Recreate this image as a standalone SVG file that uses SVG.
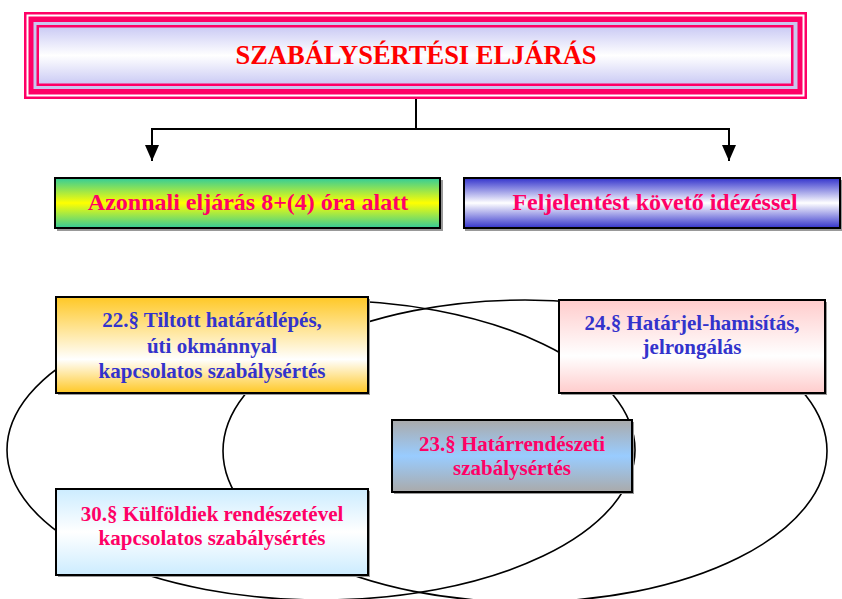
<svg xmlns="http://www.w3.org/2000/svg" width="842" height="599" viewBox="0 0 842 599">
<defs>
<linearGradient id="gTitle" x1="0" y1="0" x2="0" y2="1"><stop offset="0" stop-color="#CCCCF5"/><stop offset="0.5" stop-color="#FFFFFF"/><stop offset="1" stop-color="#CCCCF5"/></linearGradient>
<linearGradient id="gGreen" x1="0" y1="0" x2="0" y2="1"><stop offset="0" stop-color="#33CC99"/><stop offset="0.5" stop-color="#FFFF00"/><stop offset="1" stop-color="#33CC99"/></linearGradient>
<linearGradient id="gBlue" x1="0" y1="0" x2="0" y2="1"><stop offset="0" stop-color="#3333CC"/><stop offset="0.5" stop-color="#FFFFFF"/><stop offset="1" stop-color="#3333CC"/></linearGradient>
<linearGradient id="gGold" x1="0" y1="0" x2="0" y2="1"><stop offset="0" stop-color="#FFC825"/><stop offset="0.65" stop-color="#FFFFFF"/><stop offset="1" stop-color="#FFC825"/></linearGradient>
<linearGradient id="gPink" x1="0" y1="0" x2="0" y2="1"><stop offset="0" stop-color="#FFCCCC"/><stop offset="0.6" stop-color="#FFFFFF"/><stop offset="1" stop-color="#FFCCCC"/></linearGradient>
<linearGradient id="gGray" x1="0" y1="0" x2="0" y2="1"><stop offset="0" stop-color="#AAAAAA"/><stop offset="0.5" stop-color="#99CCFF"/><stop offset="1" stop-color="#AAAAAA"/></linearGradient>
<linearGradient id="gSky" x1="0" y1="0" x2="0" y2="1"><stop offset="0" stop-color="#CCECFF"/><stop offset="0.5" stop-color="#FFFFFF"/><stop offset="1" stop-color="#CCECFF"/></linearGradient>
<marker id="arrDown" viewBox="0 0 14 16" refX="7" refY="16" markerWidth="14" markerHeight="16" markerUnits="userSpaceOnUse" orient="0">
<path d="M0,0 L14,0 L7,16 Z" fill="#000"/>
</marker>
</defs>
<style>
.t{font-family:"Liberation Serif","Times New Roman",serif;font-weight:bold;text-anchor:middle}
.pink{fill:#FF0066}
.blue{fill:#3333CC}
.box{stroke:#000;stroke-width:2}
.sh{fill:#999}
.ell{fill:none;stroke:#000;stroke-width:1.6}
.con{fill:none;stroke:#000;stroke-width:2}
</style>
<rect width="842" height="599" fill="#fff"/>
<g id="ellipses">
<ellipse class="ell" cx="321" cy="450" rx="314" ry="150"/>
<ellipse class="ell" cx="525" cy="451" rx="302" ry="151"/>
</g>
<g id="title">
<rect x="24" y="12" width="783" height="87" fill="#FF0066"/>
<rect x="26.5" y="14.5" width="778" height="82" fill="#fff"/>
<rect x="28.5" y="16.5" width="774" height="78" fill="#FF0066"/>
<rect x="33.5" y="22" width="764" height="67" fill="#C8C8F0"/>
<rect x="36.5" y="25" width="757" height="61" fill="#FF0066"/>
<rect x="39" y="27.5" width="752" height="56" fill="url(#gTitle)"/>
<text class="t" x="416" y="64" font-size="26.5" fill="#FF0000">SZABÁLYSÉRTÉSI ELJÁRÁS</text>
</g>
<g id="connectors">
<path class="con" d="M416,99 V129"/>
<path class="con" d="M152,129 H729"/>
<path class="con" d="M152,128 V161" marker-end="url(#arrDown)"/>
<path class="con" d="M729,128 V161" marker-end="url(#arrDown)"/>
</g>
<g id="azonnali">
<rect class="sh" x="57" y="180" width="386" height="51"/>
<rect class="box" x="55" y="178" width="385" height="50" fill="url(#gGreen)"/>
<text class="t pink" x="248" y="210" font-size="24">Azonnali eljárás 8+(4) óra alatt</text>
</g>
<g id="feljelentes">
<rect class="sh" x="465" y="180" width="377" height="51"/>
<rect class="box" x="464" y="178" width="376" height="50" fill="url(#gBlue)"/>
<text class="t pink" x="655" y="210" font-size="24">Feljelentést követő idézéssel</text>
</g>
<g id="p22">
<rect class="sh" x="58" y="299" width="312" height="96"/>
<rect class="box" x="56" y="297" width="312" height="96" fill="url(#gGold)"/>
<text class="t blue" x="212" y="327" font-size="21">22.§ Tiltott határátlépés,</text>
<text class="t blue" x="212" y="353" font-size="21">úti okmánnyal</text>
<text class="t blue" x="212" y="378" font-size="21">kapcsolatos szabálysértés</text>
</g>
<g id="p24">
<rect class="sh" x="561" y="302" width="266" height="93"/>
<rect class="box" x="559" y="300" width="266" height="93" fill="url(#gPink)"/>
<text class="t blue" x="692" y="330" font-size="21">24.§ Határjel-hamisítás,</text>
<text class="t blue" x="692" y="354" font-size="21">jelrongálás</text>
</g>
<g id="p23">
<rect class="sh" x="394" y="422" width="240" height="72"/>
<rect class="box" x="392" y="420" width="240" height="72" fill="url(#gGray)"/>
<text class="t pink" x="512" y="451" font-size="21">23.§ Határrendészeti</text>
<text class="t pink" x="512" y="475" font-size="21">szabálysértés</text>
</g>
<g id="p30">
<rect class="sh" x="58" y="491" width="312" height="86"/>
<rect class="box" x="56" y="489" width="312" height="86" fill="url(#gSky)"/>
<text class="t pink" x="212" y="521" font-size="21">30.§ Külföldiek rendészetével</text>
<text class="t pink" x="212" y="545" font-size="21">kapcsolatos szabálysértés</text>
</g>
</svg>
